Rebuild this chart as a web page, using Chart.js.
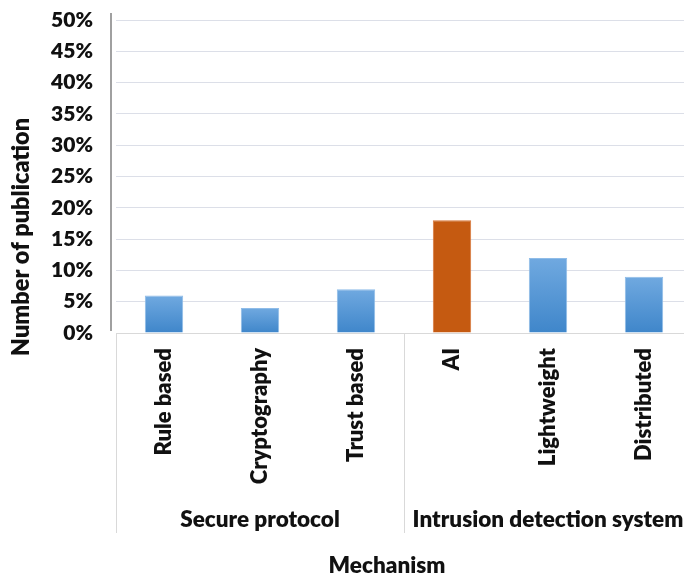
<!DOCTYPE html>
<html>
<head>
<meta charset="utf-8">
<script src="https://cdn.jsdelivr.net/npm/chart.js@4.4.1/dist/chart.umd.min.js"></script>
<style>
  html, body { margin: 0; padding: 0; background: #fff; overflow: hidden; }
  #wrap { position: relative; width: 692px; height: 577px; }
</style>
</head>
<body>
<div id="wrap"><canvas id="chart"></canvas></div>
<script>
// Mechanisms, grouped by family
const categories = ['Rule based', 'Cryptography', 'Trust based', 'AI', 'Lightweight', 'Distributed'];
const groups = ['Secure protocol', 'Intrusion detection system'];
const groupSizes = [3, 3];
// Share of publications (%)
const shares = [6, 4, 7, 18, 12, 9];
const highlighted = [false, false, false, true, false, false];
const yTicks = [0, 5, 10, 15, 20, 25, 30, 35, 40, 45, 50];

const FONT = 'Lato, "Open Sans", sans-serif';
const WEIGHT = '800';
const TEXT = '#111111';
const LINE = '#d9d9d9';

function barFill(ctx) {
  const chart = ctx.chart;
  const i = ctx.dataIndex;
  if (highlighted[i]) return '#c55a11';
  const ys = chart.scales.y;
  if (!chart.chartArea || !ys || ctx.raw === undefined) return '#5b9bd5';
  const top = ys.getPixelForValue(ctx.raw);
  const base = ys.getPixelForValue(0);
  const g = chart.ctx.createLinearGradient(0, top, 0, base);
  g.addColorStop(0, '#70a9e0');
  g.addColorStop(1, '#3f86ca');
  return g;
}

// Category box, group labels, axis titles and the detached value-axis line
const decorations = {
  id: 'decorations',
  afterDraw(chart) {
    const { ctx, chartArea } = chart;
    const xs = chart.scales.x;
    const ys = chart.scales.y;
    const step = xs.getPixelForValue(1) - xs.getPixelForValue(0);
    const left = chartArea.left;
    const top = chartArea.bottom;
    const bottom = top + 200;
    ctx.save();
    ctx.strokeStyle = LINE;
    ctx.lineWidth = 1;
    ctx.beginPath();
    ctx.moveTo(left, top + 0.5);
    ctx.lineTo(chartArea.right, top + 0.5);
    let idx = 0;
    const bounds = [left];
    groupSizes.forEach(n => { idx += n; bounds.push(xs.getPixelForValue(idx - 1) + step / 2); });
    bounds.forEach(b => {
      const x = Math.round(b) + 0.5;
      ctx.moveTo(x, top);
      ctx.lineTo(x, bottom);
    });
    ctx.stroke();

    ctx.fillStyle = TEXT;
    ctx.textAlign = 'center';
    ctx.textBaseline = 'middle';
    ctx.font = WEIGHT + ' 22.5px ' + FONT;
    groups.forEach((name, k) => {
      ctx.fillText(name, (bounds[k] + bounds[k + 1]) / 2, top + 187);
    });

    ctx.font = WEIGHT + ' 22.5px ' + FONT;
    ctx.fillText('Mechanism', 387, 566);

    ctx.font = WEIGHT + ' 23.5px ' + FONT;
    ctx.translate(21, 237);
    ctx.rotate(-Math.PI / 2);
    ctx.fillText('Number of publication', 0, 0);
    ctx.restore();

    ctx.save();
    ctx.strokeStyle = '#808080';
    ctx.lineWidth = 1.5;
    ctx.beginPath();
    ctx.moveTo(111, ys.getPixelForValue(50) - 7);
    ctx.lineTo(111, ys.getPixelForValue(0) - 2);
    ctx.stroke();
    ctx.restore();
  }
};

new Chart(document.getElementById('chart'), {
  type: 'bar',
  data: {
    labels: categories,
    datasets: [{
      data: shares,
      backgroundColor: barFill,
      borderColor: categories.map((c, i) => highlighted[i] ? '#d7763a' : '#8fbce8'),
      borderWidth: 1,
      borderSkipped: 'bottom',
      barPercentage: 0.4,
      categoryPercentage: 1.0
    }]
  },
  options: {
    responsive: true,
    maintainAspectRatio: false,
    animation: false,
    layout: { padding: { top: 20, right: 0, left: 0, bottom: 0 } },
    plugins: { legend: { display: false }, tooltip: { enabled: false } },
    scales: {
      x: {
        grid: { display: false, drawTicks: false },
        border: { display: false },
        ticks: {
          color: TEXT,
          font: { family: FONT, size: 22, weight: WEIGHT },
          minRotation: 90,
          maxRotation: 90,
          padding: 15,
          autoSkip: false
        },
        afterFit(scale) { scale.height = 244; scale.paddingLeft = 0; scale.paddingRight = 0; }
      },
      y: {
        min: 0,
        max: 50,
        afterBuildTicks(scale) { scale.ticks = yTicks.map(v => ({ value: v })); },
        grid: { color: '#dcdfe8', drawTicks: false },
        border: { display: false },
        ticks: {
          color: TEXT,
          font: { family: FONT, size: 21, weight: WEIGHT },
          padding: 23,
          callback: v => v + '%'
        },
        afterFit(scale) { scale.width = 116; scale.paddingTop = 0; scale.paddingBottom = 0; }
      }
    }
  },
  plugins: [decorations]
});
</script>
</body>
</html>
